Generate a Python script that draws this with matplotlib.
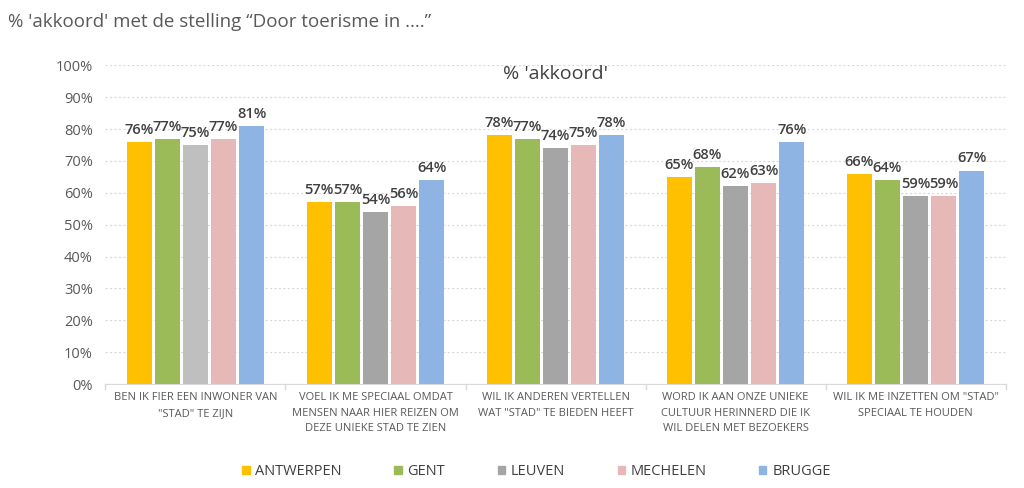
import numpy as np
import matplotlib.pyplot as plt
from matplotlib.patches import Patch

plt.rcParams['font.family'] = ['Open Sans', 'DejaVu Sans']

# Data
categories = [
    'BEN IK FIER EEN INWONER VAN\n"STAD" TE ZIJN',
    'VOEL IK ME SPECIAAL OMDAT\nMENSEN NAAR HIER REIZEN OM\nDEZE UNIEKE STAD TE ZIEN',
    'WIL IK ANDEREN VERTELLEN\nWAT "STAD" TE BIEDEN HEEFT',
    'WORD IK AAN ONZE UNIEKE\nCULTUUR HERINNERD DIE IK\nWIL DELEN MET BEZOEKERS',
    'WIL IK ME INZETTEN OM "STAD"\nSPECIAAL TE HOUDEN',
]
cities = ['ANTWERPEN', 'GENT', 'LEUVEN', 'MECHELEN', 'BRUGGE']
antwerpen = [76, 57, 78, 65, 66]
gent = [77, 57, 77, 68, 64]
leuven = [75, 54, 74, 62, 59]
mechelen = [77, 56, 75, 63, 59]
brugge = [81, 64, 78, 76, 67]
series = [antwerpen, gent, leuven, mechelen, brugge]

colors = ['#FFC000', '#9BBB59', '#A5A5A5', '#E6B9B8', '#8DB4E2']

fig = plt.figure(figsize=(10.24, 4.88), dpi=100)
ax = fig.add_axes([0.103, 0.213, 0.879, 0.653])

x = np.arange(len(categories))
width = 0.14
step = 0.156
text_col = '#595959'

for i, (vals, col) in enumerate(zip(series, colors)):
    pos = x + (i - 2) * step
    bar_cols = [col] * len(vals)
    if i == 2:
        bar_cols[0] = '#BFBFBF'  # first Leuven bar is lighter
    ax.bar(pos, vals, width, color=bar_cols, zorder=3)
    for p, v in zip(pos, vals):
        ax.text(p, v + 1.6, f'{v}%', ha='center', va='bottom', fontsize=10.5,
                fontweight='semibold', color='#404040', zorder=4)

ax.set_xlim(-0.5, len(categories) - 0.5)
ax.set_ylim(0, 100)
ax.set_yticks(np.arange(0, 101, 10))
ax.set_yticklabels([f'{v}%' for v in range(0, 101, 10)], fontsize=10.5, color=text_col)
ax.set_xticks(x)
ax.set_xticklabels(categories, fontsize=8, color=text_col, linespacing=1.55)
ax.tick_params(axis='x', length=0, pad=6)
ax.tick_params(axis='y', length=0, pad=9)

# category separators
for b in np.arange(-0.5, len(categories), 1.0):
    ax.plot([b, b], [0, -1.5], color='#D9D9D9', lw=1, clip_on=False)

ax.yaxis.grid(True, color='#D9D9D9', linestyle=(0, (2, 2)), lw=0.8, zorder=0)
for s in ['top', 'right', 'left']:
    ax.spines[s].set_visible(False)
ax.spines['bottom'].set_color('#D9D9D9')

ax.set_title("% 'akkoord'", fontsize=14, color='#404040', y=0.93)

fig.text(0.008, 0.955, '% \'akkoord\' met de stelling \u201cDoor toerisme in ....\u201d',
         fontsize=13.5, color='#595959', va='center')

handles = [Patch(color=c) for c in colors]
fig.legend(handles, cities, loc='center', bbox_to_anchor=(0.524, 0.034), ncol=5,
           frameon=False, fontsize=10.5, handlelength=0.5, handleheight=0.5,
           handletextpad=0.4, columnspacing=3.6, labelcolor='#404040')

fig.savefig('out.png', dpi=100, facecolor='white')
